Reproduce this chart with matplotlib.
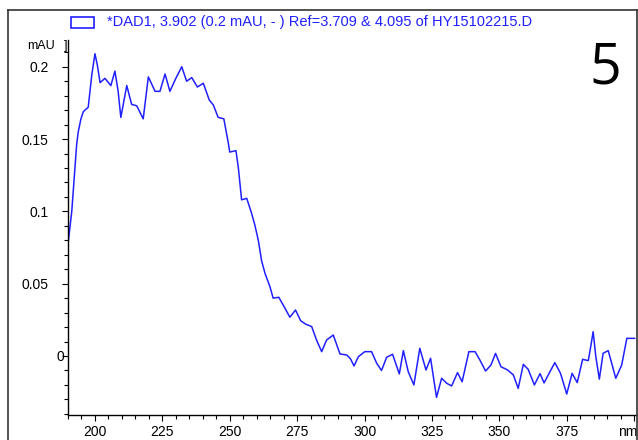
import matplotlib
matplotlib.use("Agg")
import matplotlib.pyplot as plt
import matplotlib.transforms as mtransforms
from matplotlib.lines import Line2D
from matplotlib.patches import Rectangle
from matplotlib.ticker import MultipleLocator

# spectrum (nm, mAU)
wavelength = [190.1, 191.4, 192.3, 193.2, 193.8, 194.8, 195.7, 197.5, 198.8, 200.0,
              200.9, 201.9, 203.7, 205.9, 207.4, 208.6, 209.6, 210.5, 211.8, 213.6,
              215.5, 217.9, 219.8, 222.3, 224.1, 226.0, 227.8, 230.0, 232.2, 234.0,
              235.9, 238.0, 240.2, 242.4, 243.9, 245.7, 247.8, 249.4, 250.0, 252.3,
              253.2, 254.4, 256.3, 258.1, 259.3, 260.6, 261.8, 263.1, 264.9, 266.1,
              268.2, 270.5, 272.3, 274.4, 276.3, 278.1, 280.4, 282.2, 284.1, 285.9,
              288.4, 290.9, 293.4, 294.8, 296.1, 297.7, 300.1, 302.6, 304.5, 306.3,
              308.2, 310.4, 312.9, 314.4, 316.2, 318.3, 320.5, 322.8, 324.5, 326.7,
              328.6, 330.5, 332.3, 334.5, 336.2, 338.7, 341.0, 342.8, 344.9, 346.9,
              348.6, 350.6, 353.1, 355.2, 357.0, 358.9, 360.7, 363.0, 365.1, 366.6,
              368.8, 370.6, 372.7, 375.0, 377.0, 378.9, 380.9, 383.0, 384.0, 384.8,
              385.8, 387.1, 388.5, 390.4, 393.2, 395.4, 397.3, 400.2]
absorb = [0.079, 0.100, 0.123, 0.146, 0.155, 0.164, 0.169, 0.172, 0.194, 0.209,
          0.201, 0.189, 0.192, 0.187, 0.197, 0.183, 0.165, 0.174, 0.187, 0.174,
          0.173, 0.164, 0.193, 0.183, 0.183, 0.195, 0.183, 0.192, 0.200, 0.190,
          0.1925, 0.186, 0.1886, 0.177, 0.1736, 0.165, 0.164, 0.148, 0.141, 0.142,
          0.130, 0.108, 0.109, 0.0987, 0.0906, 0.080, 0.066, 0.057, 0.048, 0.040,
          0.0406, 0.033, 0.0268, 0.0318, 0.0244, 0.0221, 0.0203, 0.011, 0.003, 0.011,
          0.0145, 0.0014, 0.0007, -0.002, -0.0069, -0.0005, 0.003, 0.003, -0.005, -0.010,
          -0.0009, 0.0012, -0.0124, 0.0037, -0.0108, -0.020, 0.0053, -0.0097, -0.0016, -0.0286,
          -0.0154, -0.0189, -0.0207, -0.0115, -0.0178, 0.003, 0.003, -0.0028, -0.0104, -0.0062,
          0.0018, -0.0074, -0.0097, -0.0131, -0.0224, -0.0058, -0.0092, -0.020, -0.0122, -0.0186,
          -0.0108, -0.0046, -0.012, -0.0263, -0.012, -0.0184, -0.0023, -0.0032, 0.0076, 0.0168,
          -0.0005, -0.016, 0.0019, 0.0037, -0.0154, -0.0062, 0.0122, 0.0122]

xticks = [200, 225, 250, 275, 300, 325, 350, 375, 400]
xlabels = ["200", "225", "250", "275", "300", "325", "350", "375", "nm"]
yticks = [0, 0.05, 0.1, 0.15, 0.2]
ylabels = ["0", "0.05", "0.1", "0.15", "0.2"]
legend_text = "*DAD1, 3.902 (0.2 mAU, - ) Ref=3.709 & 4.095 of HY15102215.D"

plt.rcParams['font.family'] = ['Liberation Sans', 'DejaVu Sans']
W, H = 638, 440
fig = plt.figure(figsize=(W / 100, H / 100), dpi=100)
ax = fig.add_axes([68 / W, 25 / H, (636 - 68) / W, (415 - 40) / H])

blue = "#2020ff"
ax.plot(wavelength, absorb, color=blue, lw=1.1)
ax.set_xlim(190, 400.7)
ax.set_ylim(-0.0408, 0.2185)

ax.set_xticks(xticks)
ax.set_xticklabels(xlabels)
ax.xaxis.set_minor_locator(MultipleLocator(5))
ax.set_yticks(yticks)
ax.set_yticklabels(ylabels)
ax.yaxis.set_minor_locator(MultipleLocator(0.01))
ax.tick_params(which="major", length=4, width=0.8, labelsize=10, color="black")
ax.tick_params(which="minor", length=3, width=0.8, color="black")
ax.tick_params(axis="x", pad=3)
ax.tick_params(axis="y", pad=10)
for s in ["top", "right"]:
    ax.spines[s].set_visible(False)
for s in ["left", "bottom"]:
    ax.spines[s].set_linewidth(1.0)

# ChemStation puts the zero label right next to the axis
for lab in ax.get_yticklabels():
    if lab.get_text() == "0":
        lab.set_transform(lab.get_transform() +
                          mtransforms.ScaledTranslation(0.16, 0, fig.dpi_scale_trans))
# unit label sits at the last x tick, nudged so it stays inside the frame
for lab in ax.get_xticklabels():
    if lab.get_text() == "nm":
        lab.set_transform(lab.get_transform() +
                          mtransforms.ScaledTranslation(-0.06, 0, fig.dpi_scale_trans))

# frame around the whole chart
fx0, fx1, fy1 = 8 / W, 636.5 / W, 1 - 10 / H
for xs, ys in [([fx0, fx0], [0, fy1]), ([fx0, fx1], [fy1, fy1]), ([fx1, fx1], [0, fy1])]:
    fig.add_artist(Line2D(xs, ys, transform=fig.transFigure, color="#333333", lw=1.2))

# legend line above the plot
fig.add_artist(Rectangle((71 / W, 1 - 28 / H), 23 / W, 11 / H, transform=fig.transFigure,
                         fill=False, edgecolor=blue, lw=1.2))
fig.text(107 / W, 1 - 22 / H, legend_text, color=blue, fontsize=10.5, va="center", ha="left")

fig.text(55 / W, 1 - 46 / H, "mAU", fontsize=9, va="center", ha="right")
fig.text(64 / W, 1 - 46 / H, "]", fontsize=9, va="center", ha="left")

fig.text(605 / W, 1 - 69 / H, "5", fontsize=40, family="Open Sans", va="center", ha="center")

fig.savefig("out.png", dpi=100)
